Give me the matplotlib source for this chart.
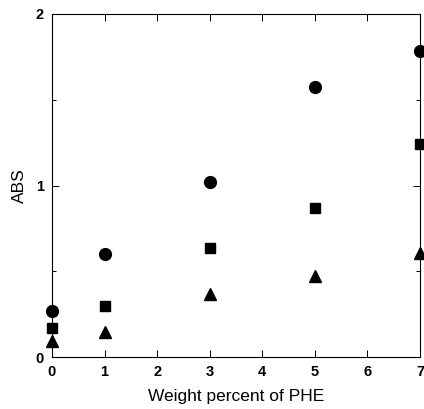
import matplotlib.pyplot as plt
from matplotlib.ticker import MultipleLocator

weight_pct = [0, 1, 3, 5, 7]
abs_circle = [0.27, 0.60, 1.02, 1.575, 1.785]
abs_square = [0.17, 0.30, 0.635, 0.87, 1.24]
abs_triangle = [0.095, 0.145, 0.365, 0.475, 0.605]

plt.rcParams["font.family"] = ["Liberation Sans", "DejaVu Sans"]

fig = plt.figure(figsize=(4.24, 4.09), dpi=100)
ax = fig.add_axes([0.1226, 0.1271, 0.868, 0.8387])

ax.plot(weight_pct, abs_circle, "o", color="black", ms=8.5, clip_on=False, zorder=5)
ax.plot(weight_pct, abs_square, "s", color="black", ms=7.5, clip_on=False, zorder=5)
ax.plot(weight_pct, abs_triangle, "^", color="black", ms=8.5, clip_on=False, zorder=5)

ax.set_xlim(0, 7)
ax.set_ylim(0, 2)
ax.xaxis.set_major_locator(MultipleLocator(1))
ax.yaxis.set_major_locator(MultipleLocator(1))
ax.yaxis.set_minor_locator(MultipleLocator(0.5))
ax.tick_params(which="both", direction="in", top=True, right=True, labelsize=10.5, width=0.7)
ax.tick_params(which="major", length=5, pad=6)
ax.tick_params(which="minor", length=3)
for lab in ax.get_xticklabels() + ax.get_yticklabels():
    lab.set_fontweight("bold")
for s in ax.spines.values():
    s.set_linewidth(0.8)

ax.set_xlabel("Weight percent of PHE", fontsize=12.5, labelpad=7)
ax.set_ylabel("ABS", fontsize=12.5, labelpad=6)

fig.savefig("out.png", dpi=100)
